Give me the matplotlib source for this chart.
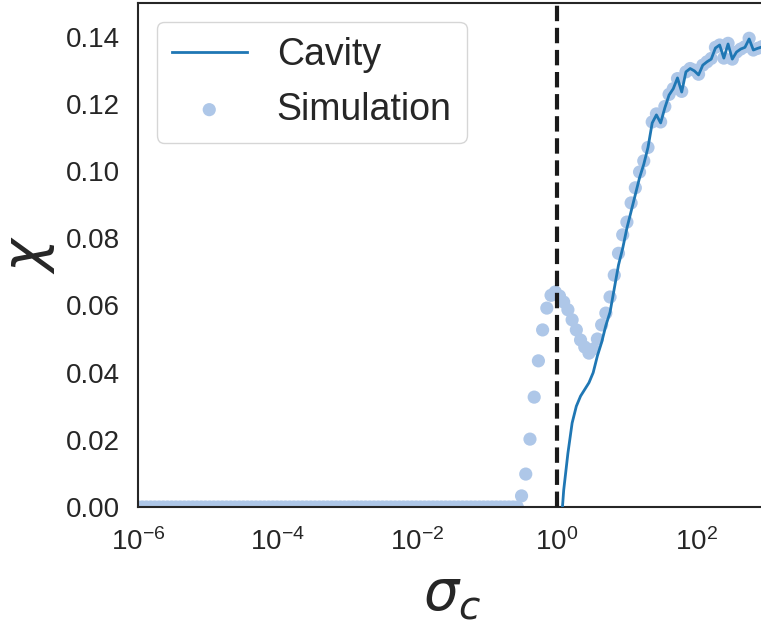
import numpy as np
import matplotlib
matplotlib.use("Agg")
import matplotlib.pyplot as plt
from matplotlib.ticker import NullLocator

plt.rcParams["font.family"] = ["Liberation Sans", "DejaVu Sans"]
plt.rcParams["text.color"] = "#262626"
plt.rcParams["axes.labelcolor"] = "#262626"
plt.rcParams["xtick.color"] = "#262626"
plt.rcParams["ytick.color"] = "#262626"

# sampling grid of sigma_c (150 log-spaced points from 1e-6 to 1e3)
sigma_c = np.logspace(-6, 3, 150)

sim_zero = [0.0] * 91
sim_tail = [
    0.0033, 0.0098, 0.0202, 0.0327, 0.0435, 0.0527, 0.0592, 0.0630, 0.0640,
    0.0628, 0.0610, 0.0587, 0.0557, 0.0527, 0.0497, 0.0476, 0.0458, 0.0470,
    0.0500, 0.0542, 0.0577, 0.0625, 0.0690, 0.0755, 0.0810, 0.0848, 0.0905,
    0.0950, 0.0997, 0.1030, 0.1070, 0.1146, 0.1170, 0.1146, 0.1192, 0.1228,
    0.1245, 0.1275, 0.1237, 0.1295, 0.1305, 0.1300, 0.1288, 0.1315, 0.1325,
    0.1335, 0.1368, 0.1375, 0.1336, 0.1380, 0.1333, 0.1354, 0.1363, 0.1370,
    0.1395, 0.1360, 0.1365, 0.1370, 0.1375,
]
simulation = sim_zero + sim_tail

# cavity solution: undefined below index 100
cav_nan = [np.nan] * 100
cav_tail = [
    -0.012, 0.005, 0.016, 0.025, 0.030, 0.033, 0.035, 0.037, 0.040, 0.045,
    0.049, 0.054, 0.058, 0.065, 0.072, 0.077, 0.083, 0.088, 0.093, 0.098,
    0.102, 0.107, 0.1143, 0.1167, 0.1143, 0.1188, 0.1226, 0.1245, 0.1277,
    0.1235, 0.1295, 0.1305, 0.1298, 0.1286, 0.1315, 0.1325, 0.1333, 0.1366,
    0.1375, 0.1336, 0.1378, 0.1333, 0.1354, 0.1363, 0.1368, 0.1393, 0.1360,
    0.1365, 0.1369, 0.1373,
]
cavity = cav_nan + cav_tail

xticks = [1e-6, 1e-4, 1e-2, 1e0, 1e2]
yticks = [0.00, 0.02, 0.04, 0.06, 0.08, 0.10, 0.12, 0.14]

fig = plt.figure(figsize=(7.61, 6.28), dpi=100)
ax = fig.add_axes([138 / 761, 121 / 628, 628 / 761, 504 / 628])

ax.plot(sigma_c, cavity, color="#1f77b4", lw=2, label="Cavity", zorder=3)
ax.scatter(sigma_c, simulation, s=90, color="#aec7e8", edgecolors="none",
           label="Simulation", zorder=2)
ax.axvline(1.0, color="#1a1a1a", ls="--", lw=3, zorder=4)

ax.set_xscale("log")
ax.set_xlim(1e-6, 1e3)
ax.set_ylim(0, 0.15)
ax.set_xticks(xticks)
ax.xaxis.set_minor_locator(NullLocator())
ax.set_yticks(yticks)
ax.set_yticklabels([f"{v:.2f}" for v in yticks])
ax.tick_params(axis="both", length=0, labelsize=20, pad=13)
ax.tick_params(axis="x", pad=15)

for sp in ax.spines.values():
    sp.set_color("#262626")
    sp.set_linewidth(1.5)

ax.set_xlabel(r"$\sigma_c$", fontsize=40, labelpad=10)
ax.set_ylabel(r"$\chi$", fontsize=40, labelpad=6)

leg = ax.legend(loc="upper left", fontsize=27, frameon=True, fancybox=True)
leg.get_frame().set_edgecolor("0.8")

fig.savefig("out.png", dpi=100)
